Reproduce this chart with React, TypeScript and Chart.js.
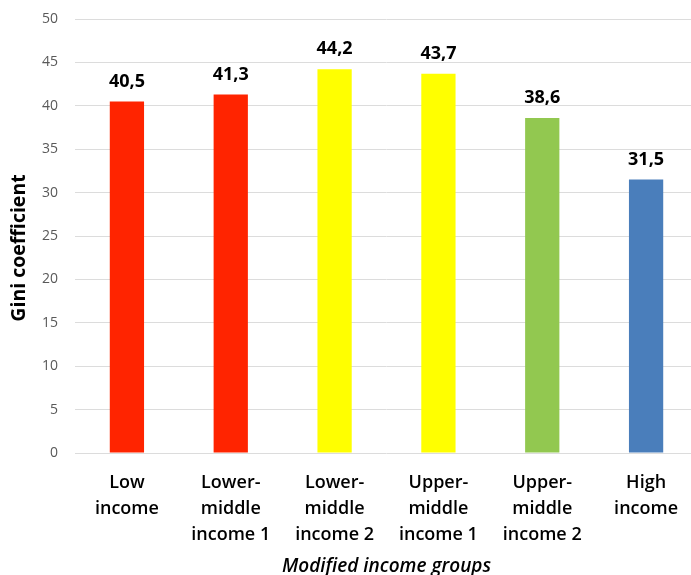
import React, { useEffect, useRef } from "react";
import { Chart, registerables } from "chart.js";

Chart.register(...registerables);

const categories: string[][] = [
  ["Low", "income"],
  ["Lower-", "middle", "income 1"],
  ["Lower-", "middle", "income 2"],
  ["Upper-", "middle", "income 1"],
  ["Upper-", "middle", "income 2"],
  ["High", "income"],
];
const giniValues: number[] = [40.5, 41.3, 44.2, 43.7, 38.6, 31.5];
const barColors: string[] = ["#FF2400", "#FF2400", "#FFFF00", "#FFFF00", "#92C850", "#4A7EBB"];
const yTicks = { min: 0, max: 50, step: 5 };
const yTitle = "Gini coefficient";
const xTitle = "Modified income groups";

const FONT = "'Open Sans', 'DejaVu Sans', sans-serif";

const valueLabels = {
  id: "valueLabels",
  afterDatasetsDraw(chart: any) {
    const ctx = chart.ctx;
    const meta = chart.getDatasetMeta(0);
    ctx.save();
    ctx.font = `bold 18px ${FONT}`;
    ctx.fillStyle = "#000000";
    ctx.textAlign = "center";
    ctx.textBaseline = "bottom";
    meta.data.forEach((el: any, i: number) => {
      const txt = giniValues[i].toFixed(1).replace(".", ",");
      ctx.fillText(txt, el.x, el.y - 11);
    });
    // y axis title
    const area = chart.chartArea;
    ctx.translate(19, (area.top + area.bottom) / 2 + 12);
    ctx.rotate(-Math.PI / 2);
    ctx.font = `bold 19.5px ${FONT}`;
    ctx.textBaseline = "middle";
    ctx.fillText(yTitle, 0, 0);
    ctx.restore();
  },
};

export default function App() {
  const ref = useRef<HTMLCanvasElement | null>(null);
  useEffect(() => {
    if (!ref.current) return;
    const chart = new Chart(ref.current, {
      type: "bar",
      data: {
        labels: categories,
        datasets: [
          {
            data: giniValues,
            backgroundColor: barColors,
            borderWidth: 0,
            barPercentage: 0.33,
            categoryPercentage: 1,
          },
        ],
      },
      options: {
        animation: false,
        responsive: false,
        maintainAspectRatio: false,
        layout: { padding: { top: 19, right: 2, left: 0, bottom: 0 } },
        plugins: { legend: { display: false }, tooltip: { enabled: false } },
        scales: {
          x: {
            grid: { display: false },
            border: { display: false },
            afterFit: (s: any) => {
              s.height = 122;
            },
            ticks: {
              color: "#000000",
              font: { family: FONT, size: 18, weight: 600, lineHeight: "26px" },
              padding: 9,
              maxRotation: 0,
              autoSkip: false,
            },
            title: {
              display: true,
              text: xTitle,
              color: "#000000",
              font: { family: FONT, size: 19, weight: 600, style: "italic" },
              padding: { top: 0, bottom: -3 },
            },
          },
          y: {
            min: yTicks.min,
            max: yTicks.max,
            afterFit: (s: any) => {
              s.width = 75;
              s.paddingTop = 0;
              s.paddingBottom = 0;
            },
            grid: { color: "#DCDCDC", lineWidth: 1, drawTicks: false },
            border: { display: false },
            ticks: {
              stepSize: yTicks.step,
              color: "#595959",
              font: { family: FONT, size: 14 },
              padding: 17,
            },
          },
        },
      },
      plugins: [valueLabels],
    });
    return () => chart.destroy();
  }, []);
  return (
    <div style={{ position: "fixed", left: 0, top: 0, width: 691, height: 575, overflow: "hidden", background: "#fff" }}>
      <canvas ref={ref} width={700} height={575} style={{ display: "block" }} />
    </div>
  );
}
